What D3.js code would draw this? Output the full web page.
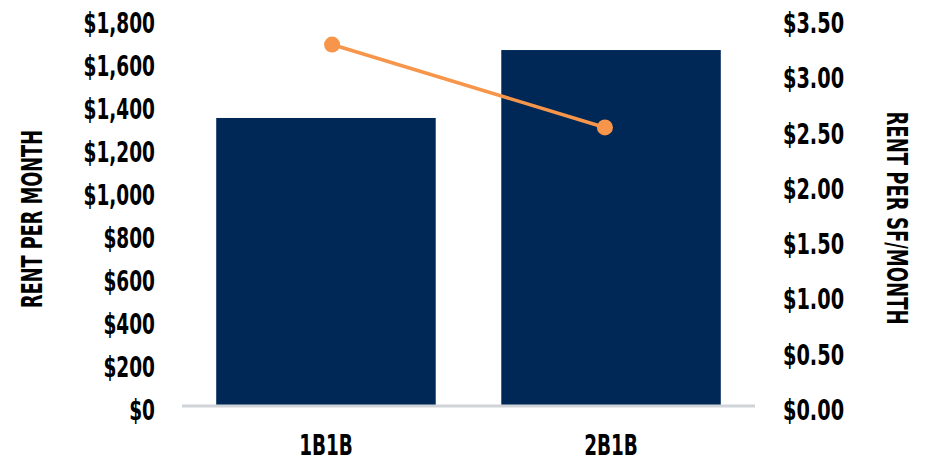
<!DOCTYPE html>
<html>
<head>
<meta charset="utf-8">
<script src="https://cdn.jsdelivr.net/npm/d3@7"></script>
<style>
  body { margin: 0; background: #fff; }
  svg text { font-family: "Liberation Sans Narrow", "DejaVu Sans Condensed", sans-serif; font-weight: bold; fill: #000; }
</style>
</head>
<body>
<svg id="chart"></svg>
<script>
"use strict";

var units = ['1B1B', '2B1B'];
var rentPerMonth = [1335, 1651];
var rentPerSf = [3.26, 2.51];
var leftTicks = [0, 200, 400, 600, 800, 1000, 1200, 1400, 1600, 1800];
var rightTicks = [0, 0.5, 1, 1.5, 2, 2.5, 3, 3.5];

var width = 933, height = 463;
var plotLeft = 182, plotRight = 755, plotTop = 18, plotBottom = 405;
var squeeze = 0.71; // no condensed display font here, so narrow the glyphs

var svg = d3.select('#chart')
    .attr('width', width)
    .attr('height', height);

var x = d3.scaleBand()
    .domain(units)
    .range([plotLeft, plotRight])
    .paddingInner(0.23)
    .paddingOuter(0.12);

// the line series sits a little inward of the bar centres
var xLine = d3.scalePoint()
    .domain(units)
    .range([plotLeft, plotRight])
    .padding(0.55);

var yLeft = d3.scaleLinear().domain([0, 1800]).range([plotBottom, plotTop]);
var yRight = d3.scaleLinear().domain([0, 3.5]).range([plotBottom, plotTop]);

function narrow(sel, factor) {
    sel.each(function() {
        var len = this.getComputedTextLength();
        d3.select(this)
            .attr('textLength', len * factor)
            .attr('lengthAdjust', 'spacingAndGlyphs');
    });
}

// bars
svg.append('g')
    .selectAll('rect')
    .data(units)
    .join('rect')
        .attr('x', d => x(d))
        .attr('width', x.bandwidth())
        .attr('y', (d, i) => yLeft(rentPerMonth[i]))
        .attr('height', (d, i) => plotBottom - yLeft(rentPerMonth[i]))
        .attr('fill', '#002856');

// baseline
svg.append('line')
    .attr('x1', plotLeft).attr('x2', plotRight)
    .attr('y1', plotBottom + 1).attr('y2', plotBottom + 1)
    .attr('stroke', '#d0d3d8')
    .attr('stroke-width', 3);

// left axis
var axL = svg.append('g')
    .attr('transform', `translate(${plotLeft},0)`)
    .call(d3.axisLeft(yLeft).tickValues(leftTicks).tickSize(0).tickPadding(27)
        .tickFormat(d => '$' + d3.format(',')(d)));
axL.select('.domain').remove();
axL.selectAll('text').style('font-size', '29px').attr('dy', '0.5em').call(narrow, squeeze);

// right axis
var axR = svg.append('g')
    .attr('transform', `translate(${plotRight},0)`)
    .call(d3.axisRight(yRight).tickValues(rightTicks).tickSize(0).tickPadding(28)
        .tickFormat(d => '$' + d3.format('.2f')(d)));
axR.select('.domain').remove();
axR.selectAll('text').style('font-size', '29px').attr('dy', '0.5em').call(narrow, 0.74);

// category axis
var axB = svg.append('g')
    .attr('transform', `translate(0,${plotBottom})`)
    .call(d3.axisBottom(x).tickSize(0).tickPadding(30));
axB.select('.domain').remove();
axB.selectAll('text').style('font-size', '28px').attr('dy', '0.71em').call(narrow, 0.73);

// axis titles
svg.append('text')
    .attr('transform', 'translate(42,219) rotate(-90)')
    .attr('text-anchor', 'middle')
    .style('font-size', '29px')
    .attr('textLength', 178)
    .attr('lengthAdjust', 'spacingAndGlyphs')
    .text('RENT PER MONTH');

svg.append('text')
    .attr('transform', 'translate(887,218) rotate(90)')
    .attr('text-anchor', 'middle')
    .style('font-size', '29px')
    .attr('textLength', 213)
    .attr('lengthAdjust', 'spacingAndGlyphs')
    .text('RENT PER SF/MONTH');

// line series
var line = d3.line()
    .x((d, i) => xLine(units[i]))
    .y(d => yRight(d));

svg.append('path')
    .datum(rentPerSf)
    .attr('d', line)
    .attr('fill', 'none')
    .attr('stroke', '#f7964a')
    .attr('stroke-width', 3.5);

svg.append('g')
    .selectAll('circle')
    .data(rentPerSf)
    .join('circle')
        .attr('cx', (d, i) => xLine(units[i]))
        .attr('cy', d => yRight(d))
        .attr('r', 8)
        .attr('fill', '#f7964a');
</script>
</body>
</html>
